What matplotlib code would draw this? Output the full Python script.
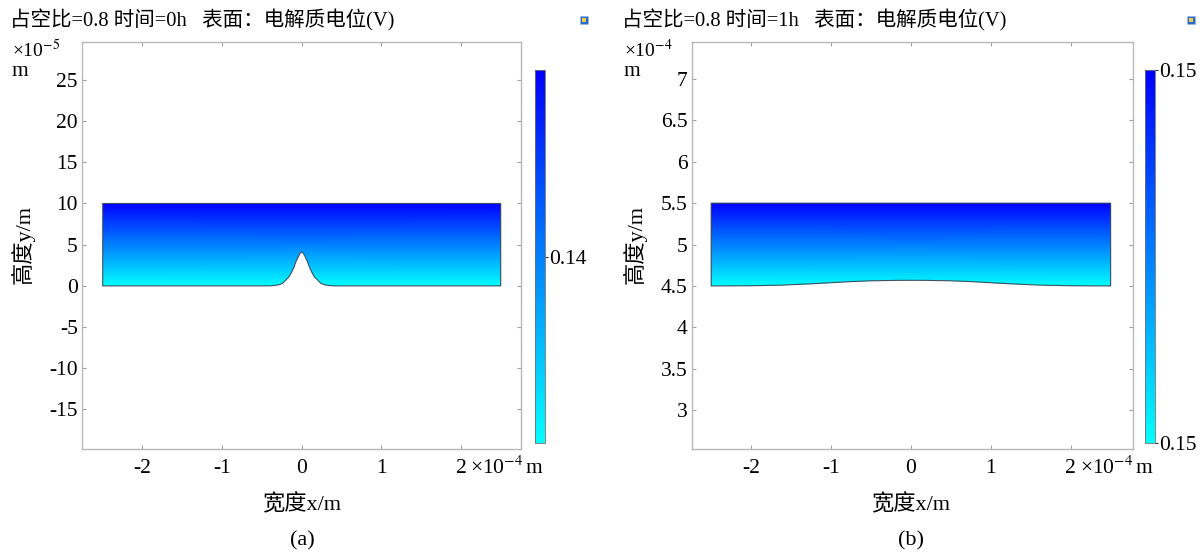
import matplotlib
matplotlib.use('Agg')
import matplotlib.pyplot as plt
from matplotlib.colors import LinearSegmentedColormap
from matplotlib.patches import Polygon, Rectangle
from matplotlib.transforms import blended_transform_factory

plt.rcParams['font.family'] = ['Liberation Serif', 'Noto Sans CJK SC', 'DejaVu Sans']
plt.rcParams['mathtext.fontset'] = 'stix'

W, H = 1203, 553
FS_TICK = 15.5
FS_LAB = 16
FS_TITLE = 14.8

# ---- data (x in 1e-4 m) ----
# panel (a): y in 1e-5 m, electrolyte on top of a single peak
bottom_x_a = [-2.5, -0.40, -0.30, -0.24, -0.20, -0.16, -0.13, -0.10, -0.07, -0.04, -0.02, 0.0,
              0.02, 0.04, 0.07, 0.10, 0.13, 0.16, 0.20, 0.24, 0.30, 0.40, 2.5]
bottom_y_a = [0.0, 0.0, 0.1, 0.3, 0.7, 1.1, 1.6, 2.2, 3.0, 3.6, 3.95, 4.1,
              3.95, 3.6, 3.0, 2.2, 1.6, 1.1, 0.7, 0.3, 0.1, 0.0, 0.0]
top_a = 10.0
pot_a = [0.1393, 0.1407]          # potential at bottom / top (V)
yticks_a = [-15, -10, -5, 0, 5, 10, 15, 20, 25]

# panel (b): y in 1e-4 m, flattened surface after 1h
bottom_x_b = [-2.5, -2.0, -1.6, -1.2, -0.8, -0.5, -0.2, 0.0, 0.2, 0.5, 0.8, 1.2, 1.6, 2.0, 2.5]
bottom_y_b = [4.5, 4.502, 4.51, 4.528, 4.55, 4.562, 4.567, 4.568, 4.567, 4.562, 4.55, 4.528, 4.51, 4.502, 4.5]
top_b = 5.5
pot_b = [0.1496, 0.1504]
yticks_b = [3, 3.5, 4, 4.5, 5, 5.5, 6, 6.5, 7]

xticks = [-2, -1, 0, 1, 2]

cmap = LinearSegmentedColormap.from_list('cyanblue', ['#00ffff', '#0000ff'])

fig = plt.figure(figsize=(W / 100, H / 100), dpi=100)


def px(x, y):
    return x / W, 1 - y / H


def panel(box, cbox, bx, by, top, pot, xlim, ylim, yticks, cticks,
          exp_label, left_px, center_px, tag, title, icon_px):
    l, t, r, b = box
    ax = fig.add_axes([l / W, 1 - b / H, (r - l) / W, (b - t) / H])
    verts = [(bx[0], top)] + list(zip(bx, by)) + [(bx[-1], top)]
    poly = Polygon(verts, closed=True, fc='none', ec='#3c5060', lw=0.8, zorder=3)
    ax.add_patch(poly)
    X = [[bx[0], bx[-1]], [bx[0], bx[-1]]]
    Y = [[min(by), min(by)], [top, top]]
    C = [[pot[0], pot[0]], [pot[1], pot[1]]]
    mesh = ax.pcolormesh(X, Y, C, shading='gouraud', cmap=cmap, vmin=pot[0], vmax=pot[1])
    mesh.set_clip_path(poly)
    ax.set_xlim(xlim)
    ax.set_ylim(ylim)
    ax.set_xticks(xticks)
    ax.set_xticklabels(['%g' % v for v in xticks])
    ax.set_yticks(yticks)
    ax.set_yticklabels(['%g' % v for v in yticks])
    ax.tick_params(direction='in', length=3, width=0.8, color='#a0a0a0',
                   top=True, right=True, labelsize=FS_TICK)
    ax.tick_params(axis='x', pad=7)
    ax.tick_params(axis='y', pad=3)
    for s in ax.spines.values():
        s.set_color('#b8b8b8')
        s.set_linewidth(1.0)
    tr = blended_transform_factory(ax.transData, ax.transAxes)
    ax.text(2.12, -0.045, '\u00d710$^{-4}\\,$m', transform=tr, ha='left', va='center',
            fontsize=FS_TICK)

    cl, ct, cr, cb_ = cbox
    cax = fig.add_axes([cl / W, 1 - cb_ / H, (cr - cl) / W, (cb_ - ct) / H])
    cb = fig.colorbar(mesh, cax=cax)
    cb.set_ticks(cticks)
    cb.ax.yaxis.set_major_formatter('{x:.2f}')
    cb.outline.set_edgecolor('#707070')
    cb.outline.set_linewidth(0.6)
    cax.tick_params(length=2, width=0.6, labelsize=FS_TICK, pad=1)

    fig.text(*px(left_px + 2, 50), '\u00d710$^{' + exp_label + '}$', fontsize=14,
             ha='left', va='center')
    fig.text(*px(left_px + 2, 72), 'm', fontsize=FS_TICK, ha='left', va='center')
    fig.text(*px(left_px + 13, 245), '高度y/m', fontsize=FS_LAB, rotation=90,
             ha='center', va='center')
    fig.text(*px(center_px, 505), '宽度x/m', fontsize=FS_LAB, ha='center', va='center')
    fig.text(*px(center_px, 541), tag, fontsize=FS_LAB, ha='center', va='center')
    fig.text(*px(left_px, 20), title, fontsize=FS_TITLE, ha='left', va='center')
    ix, iy = icon_px
    fig.add_artist(Rectangle(px(ix, iy + 8), 8 / W, 8 / H, transform=fig.transFigure,
                             fc='#2a6ad0', ec='#9ab8e0', lw=0.5))
    fig.add_artist(Rectangle(px(ix + 2, iy + 6), 4 / W, 4 / H, transform=fig.transFigure,
                             fc='#e8d040', ec='none'))


panel((82, 42, 521, 449), (535, 70, 545, 443), bottom_x_a, bottom_y_a, top_a, pot_a,
      (-2.76, 2.755), (-19.8, 29.6), yticks_a, [0.14], '-5', 10, 302, '(a)',
      '占空比=0.8 时间=0h   表面：电解质电位(V)', (580, 16))

panel((692, 42, 1133, 449), (1145, 70, 1155, 443), bottom_x_b, bottom_y_b, top_b, pot_b,
      (-2.74, 2.78), (2.53, 7.447), yticks_b, [pot_b[0], pot_b[1]], '-4', 622, 911, '(b)',
      '占空比=0.8 时间=1h   表面：电解质电位(V)', (1187, 16))

fig.savefig('out.png', dpi=100)
